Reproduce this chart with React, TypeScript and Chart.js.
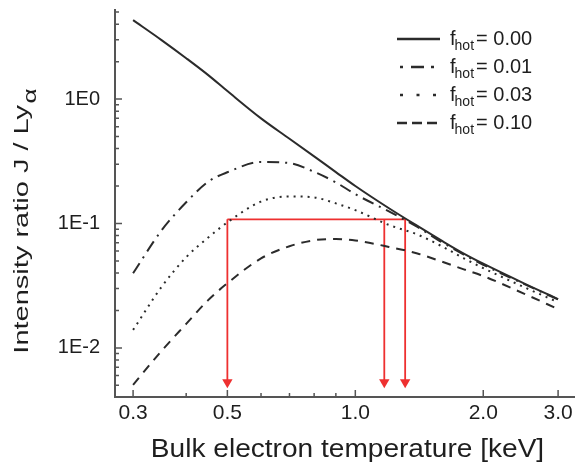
import React, { useEffect, useRef } from 'react';
import { Chart, registerables } from 'chart.js';

Chart.register(...registerables);

// ---------- data ----------
const temperatures = [0.3, 0.35, 0.4, 0.45, 0.5, 0.6, 0.7, 0.8, 0.9, 1.0, 1.2, 1.4, 1.6, 1.8, 2.0, 2.5, 3.0];
const ratioF000 = [4.31, 2.98, 2.13, 1.565, 1.16, 0.7, 0.48, 0.346, 0.259, 0.2, 0.1325, 0.0955, 0.0724, 0.0573, 0.0475, 0.0329, 0.0247];
const ratioF001 = [0.0398, 0.088, 0.148, 0.216, 0.258, 0.312, 0.306, 0.26, 0.214, 0.172, 0.125, 0.0937, 0.0706, 0.0562, 0.0466, 0.0325, 0.0245];
const ratioF003 = [0.01395, 0.0309, 0.0536, 0.0768, 0.102, 0.15, 0.165, 0.162, 0.145, 0.128, 0.0973, 0.0815, 0.0654, 0.0525, 0.0438, 0.0307, 0.0233];
const ratioF010 = [0.00505, 0.00946, 0.0156, 0.0241, 0.0331, 0.0524, 0.0656, 0.0733, 0.0751, 0.073, 0.0648, 0.0574, 0.0493, 0.0428, 0.0378, 0.0272, 0.0205];
const fHotValues = ['0.00', '0.01', '0.03', '0.10'];

// red read-off construction
const measuredRatio = 0.108;
const arrowTemps = [0.5, 1.17, 1.31];
const arrowEnd = 0.0053;

// axis ticks
const xMajorTicks = [0.3, 0.5, 1.0, 2.0, 3.0];
const xMinorTicks = [0.4, 0.6, 0.7, 0.8, 0.9];
const xTickLabels = ['0.3', '0.5', '1.0', '2.0', '3.0'];
const yMajorTicks = [0.01, 0.1, 1];
const yMinorTicks = [0.005, 0.006, 0.007, 0.008, 0.009, 0.02, 0.03, 0.04, 0.05, 0.06, 0.07, 0.08, 0.09, 0.2, 0.3, 0.4, 0.5, 0.6, 0.7, 0.8, 0.9, 2, 3, 4, 5];
const yTickLabels = ['1E-2', '1E-1', '1E0'];

const X_TITLE = 'Bulk electron temperature [keV]';
const Y_TITLE_MAIN = 'Intensity ratio J / Ly';
const Y_TITLE_SUB = '\u03B1';

// ---------- style ----------
const FONT = '"Liberation Sans", Arial, Helvetica, sans-serif';
const INK = '#1e1e1e';
const CURVE = '#2b2b2b';
const AXIS = '#555555';
const RED = '#ee3030';
const curveDashes = [[], [12, 6, 2, 6], [2, 5], [9, 7]];
const legendDashes = [[], [3, 8, 13, 7, 3, 100], [3, 13.5], [10, 5]];
const legendLen = [43, 34, 36, 43];
const legendStart = [397, 400, 400, 397];

const customPlugin = {
  id: 'customDecor',
  afterDraw(chart: any) {
    const ctx = chart.ctx as CanvasRenderingContext2D;
    const area = chart.chartArea;
    const xs = chart.scales.x;
    const ys = chart.scales.y;
    ctx.save();
    // inward tick marks
    ctx.strokeStyle = AXIS;
    ctx.lineWidth = 1.5;
    ctx.beginPath();
    xs.ticks.forEach((t: any) => {
      const px = xs.getPixelForValue(t.value);
      const len = xMajorTicks.includes(t.value) ? 7 : 4;
      ctx.moveTo(px, area.bottom);
      ctx.lineTo(px, area.bottom - len);
    });
    ys.ticks.forEach((t: any) => {
      const py = ys.getPixelForValue(t.value);
      const len = yMajorTicks.includes(t.value) ? 7 : 4;
      ctx.moveTo(area.left, py);
      ctx.lineTo(area.left + len, py);
    });
    ctx.stroke();

    // x title
    ctx.fillStyle = INK;
    ctx.textBaseline = 'alphabetic';
    ctx.save();
    ctx.font = `26px ${FONT}`;
    ctx.textAlign = 'center';
    ctx.translate((area.left + area.right) / 2 + 3, 457);
    ctx.scale(1.08, 1);
    ctx.fillText(X_TITLE, 0, 0);
    ctx.restore();

    // y title (rotated, with subscript)
    ctx.save();
    const stretch = 1.45;
    ctx.font = `20px ${FONT}`;
    const mainW = ctx.measureText(Y_TITLE_MAIN).width;
    ctx.font = `18px ${FONT}`;
    const subW = ctx.measureText(Y_TITLE_SUB).width;
    const total = (mainW + 1 + subW) * stretch;
    ctx.translate(28, 221 + total / 2);
    ctx.rotate(-Math.PI / 2);
    ctx.scale(stretch, 1);
    ctx.textAlign = 'left';
    ctx.font = `20px ${FONT}`;
    ctx.fillText(Y_TITLE_MAIN, 0, 0);
    ctx.font = `18px ${FONT}`;
    ctx.fillText(Y_TITLE_SUB, mainW + 1, 8);
    ctx.restore();

    // legend
    fHotValues.forEach((val, i) => {
      const base = 45 + 28 * i;
      const ly = base - 6;
      ctx.save();
      ctx.strokeStyle = CURVE;
      ctx.lineWidth = 2.5;
      ctx.setLineDash(legendDashes[i]);
      ctx.beginPath();
      ctx.moveTo(legendStart[i], ly);
      ctx.lineTo(legendStart[i] + legendLen[i], ly);
      ctx.stroke();
      ctx.restore();
      ctx.textAlign = 'left';
      ctx.fillStyle = INK;
      let x = 450;
      ctx.font = `20px ${FONT}`;
      ctx.fillText('f', x, base);
      x += ctx.measureText('f').width - 1;
      ctx.font = `14px ${FONT}`;
      ctx.fillText('hot', x, base + 5);
      x += ctx.measureText('hot').width + 2;
      ctx.font = `20px ${FONT}`;
      ctx.fillText('= ' + val, x, base);
    });
    ctx.restore();
  },
};

function makeTicks(major: number[], minor: number[]) {
  return [...major, ...minor].sort((a, b) => a - b).map((v) => ({ value: v, major: major.includes(v) }));
}

export default function App() {
  const ref = useRef<HTMLCanvasElement>(null);
  useEffect(() => {
    if (!ref.current) return;
    const curveData = [ratioF000, ratioF001, ratioF003, ratioF010];
    const datasets: any[] = curveData.map((arr, i) => ({
      label: 'f_hot = ' + fHotValues[i],
      data: temperatures.map((t, k) => ({ x: t, y: arr[k] })),
      borderColor: CURVE,
      borderWidth: 2,
      borderDash: curveDashes[i],
      pointRadius: 0,
      cubicInterpolationMode: 'monotone',
      fill: false,
    }));
    datasets.push({
      label: 'level',
      data: [
        { x: arrowTemps[0], y: measuredRatio },
        { x: arrowTemps[arrowTemps.length - 1], y: measuredRatio },
      ],
      borderColor: RED,
      borderWidth: 1.8,
      pointRadius: 0,
    });
    arrowTemps.forEach((t) => {
      datasets.push({
        label: 'arrow',
        data: [
          { x: t, y: measuredRatio },
          { x: t, y: arrowEnd },
        ],
        borderColor: RED,
        backgroundColor: RED,
        borderWidth: 1.8,
        pointRadius: [0, 6],
        pointStyle: 'triangle',
        rotation: 180,
        pointBorderWidth: 0,
      });
    });

    const chart = new Chart(ref.current, {
      type: 'line',
      data: { datasets },
      plugins: [customPlugin],
      options: {
        animation: false,
        responsive: false,
        devicePixelRatio: 1,
        layout: { padding: { top: 10, right: 5, left: 0, bottom: 0 } },
        plugins: { legend: { display: false }, tooltip: { enabled: false } },
        scales: {
          x: {
            type: 'logarithmic',
            min: 0.272,
            max: 3.27,
            grid: { display: false, drawTicks: false },
            border: { display: true, color: AXIS, width: 2 },
            afterBuildTicks: (scale: any) => {
              scale.ticks = makeTicks(xMajorTicks, xMinorTicks);
            },
            afterFit: (scale: any) => {
              scale.height = 68;
              scale.paddingLeft = 0;
              scale.paddingRight = 0;
            },
            ticks: {
              autoSkip: false,
              maxRotation: 0,
              minRotation: 0,
              padding: 4,
              color: INK,
              font: { family: FONT, size: 21 },
              callback: (v: any) => {
                const idx = xMajorTicks.indexOf(Number(v));
                return idx >= 0 ? xTickLabels[idx] : '';
              },
            },
          },
          y: {
            type: 'logarithmic',
            min: 0.00403,
            max: 5.2,
            grid: { display: false, drawTicks: false },
            border: { display: true, color: AXIS, width: 2 },
            afterBuildTicks: (scale: any) => {
              scale.ticks = makeTicks(yMajorTicks, yMinorTicks);
            },
            afterFit: (scale: any) => {
              scale.width = 115;
              scale.paddingTop = 0;
              scale.paddingBottom = 0;
            },
            ticks: {
              autoSkip: false,
              padding: 15,
              color: INK,
              font: { family: FONT, size: 20 },
              callback: (v: any) => {
                const idx = yMajorTicks.indexOf(Number(v));
                return idx >= 0 ? yTickLabels[idx] : '';
              },
            },
          },
        },
      } as any,
    });
    return () => chart.destroy();
  }, []);

  return (
    <div style={{ position: 'fixed', left: 0, top: 0, width: 580, height: 465, background: '#fff' }}>
      <canvas ref={ref} width={580} height={465} />
    </div>
  );
}
